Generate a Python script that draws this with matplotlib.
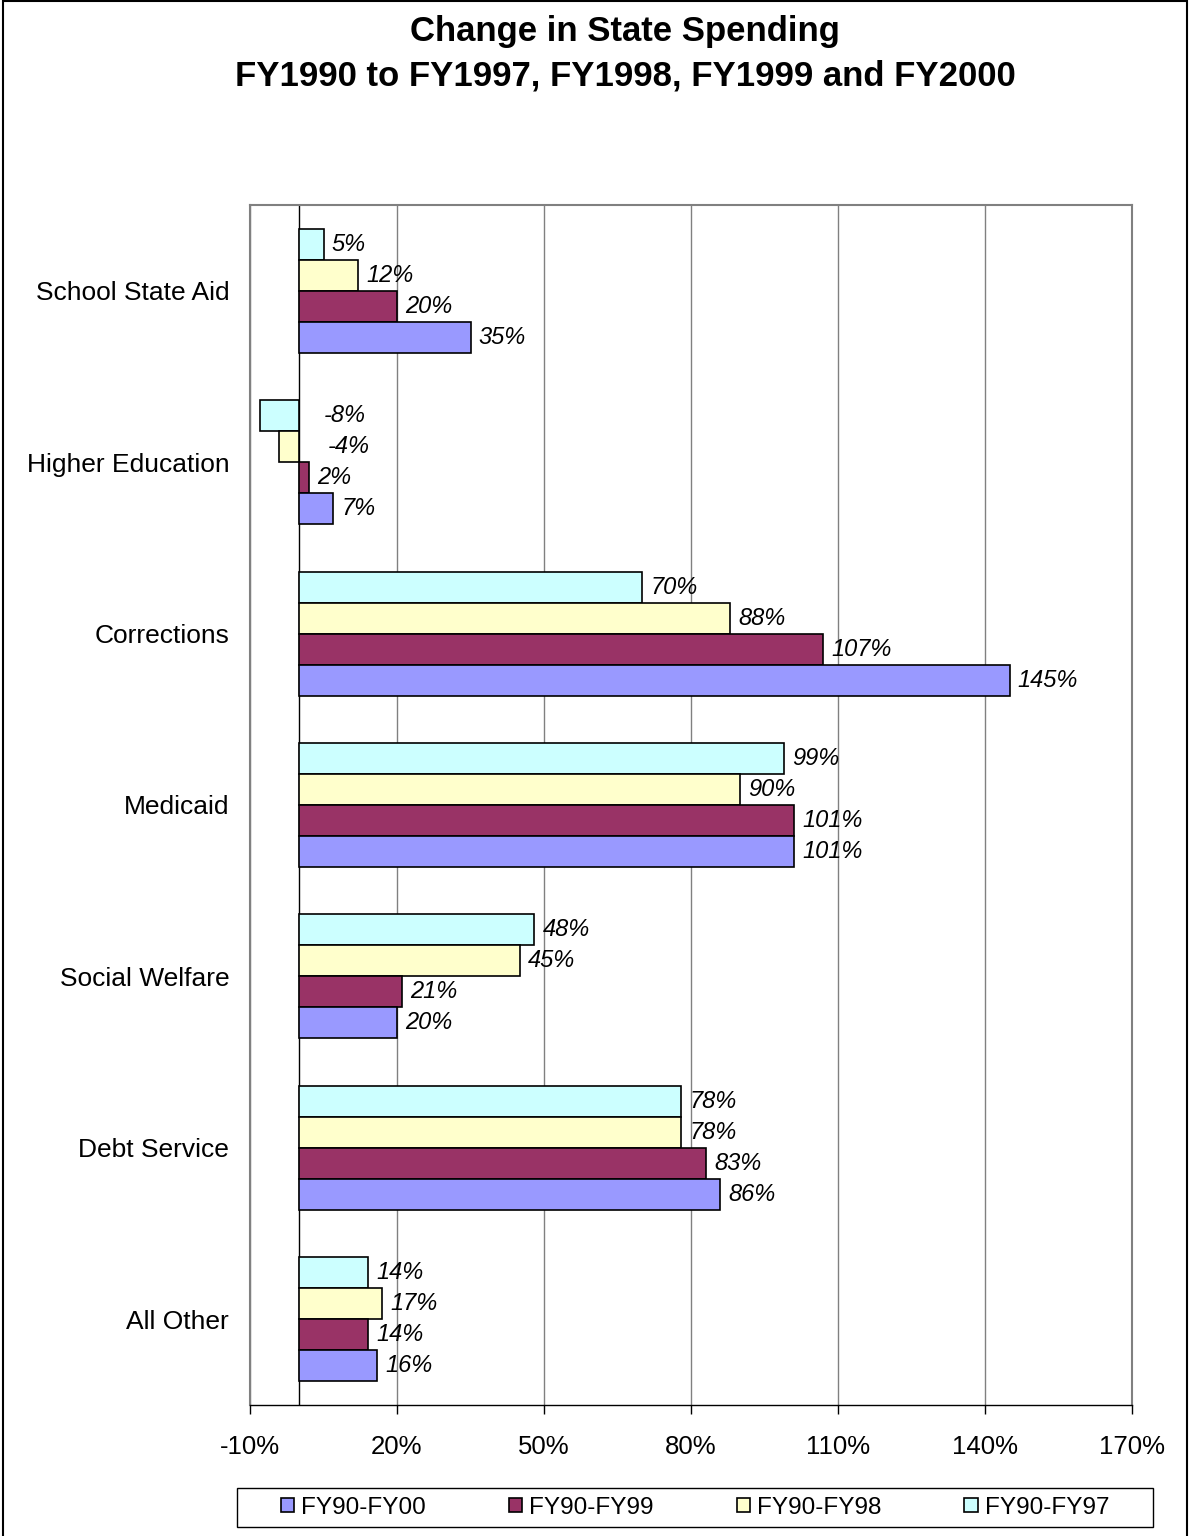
import numpy as np
import matplotlib
matplotlib.use("Agg")
from matplotlib import pyplot as plt
from matplotlib.patches import Patch, Rectangle

plt.rcParams['font.family'] = ['Liberation Sans', 'DejaVu Sans']

categories = ["School State Aid", "Higher Education", "Corrections", "Medicaid",
              "Social Welfare", "Debt Service", "All Other"]
fy97 = [5, -8, 70, 99, 48, 78, 14]
fy98 = [12, -4, 88, 90, 45, 78, 17]
fy99 = [20, 2, 107, 101, 21, 83, 14]
fy00 = [35, 7, 145, 101, 20, 86, 16]

# top to bottom inside each group
series = [
    ("FY90-FY97", fy97, "#CCFFFF"),
    ("FY90-FY98", fy98, "#FFFFCC"),
    ("FY90-FY99", fy99, "#993366"),
    ("FY90-FY00", fy00, "#9999FF"),
]
xticks = np.arange(-10, 171, 30)

W, H = 1189, 1536
fig = plt.figure(figsize=(W / 100, H / 100), dpi=100)
ax = fig.add_axes([250 / W, 131 / H, 882 / W, 1200 / H])

y = np.arange(len(categories))
h = 0.181
for k, (name, vals, col) in enumerate(series):
    pos = y + (k - 1.5) * h
    ax.barh(pos, vals, height=h, color=col, edgecolor="black", linewidth=1.2, zorder=3)
    for p, v in zip(pos, vals):
        if v >= 0:
            ax.annotate(f"{v}%", (v, p), xytext=(6, 0), textcoords="offset points",
                        ha="left", va="center", fontsize=17, style="italic", zorder=4)
        else:
            # negative labels sit to the right of the zero line
            ax.annotate(f"{v}%", (0, p), xytext=(24 + 0.75 * v, 0), textcoords="offset points",
                        ha="left", va="center", fontsize=17, style="italic", zorder=4)

ax.set_xlim(-10, 170)
ax.set_ylim(len(categories) - 0.5, -0.5)
ax.set_xticks(xticks)
ax.set_xticklabels([f"{t}%" for t in xticks], fontsize=18.5)
ax.set_yticks(y)
ax.set_yticklabels(categories, fontsize=19)
ax.tick_params(axis="y", length=0, pad=15)
ax.tick_params(axis="x", direction="out", length=6.5, width=1, color="black", pad=15)
ax.xaxis.grid(True, color="#808080", linewidth=1, zorder=0)
ax.axvline(0, color="black", linewidth=1, zorder=2)
for s in ["top", "right", "left"]:
    ax.spines[s].set_color("#808080")
    ax.spines[s].set_linewidth(1.5)
ax.spines["bottom"].set_color("black")
ax.spines["bottom"].set_linewidth(1)

fig.text(625 / W, 1 - 32 / H, "Change in State Spending", ha="center", va="center",
         fontsize=25, fontweight="bold")
fig.text(625 / W, 1 - 76 / H, "FY1990 to FY1997, FY1998, FY1999 and FY2000", ha="center",
         va="center", fontsize=25, fontweight="bold")

handles = [Patch(facecolor=c, edgecolor="black", linewidth=1.2, label=n) for n, v, c in series[::-1]]
fig.legend(handles=handles, ncol=4, frameon=False, loc="center",
           bbox_to_anchor=(695 / W, 1 - 1507.5 / H), fontsize=17.5,
           handlelength=0.55, handleheight=0.55, handletextpad=0.3, columnspacing=3.4)
fig.patches.append(Rectangle((237 / W, 1 - 1527 / H), 916 / W, 39 / H, transform=fig.transFigure,
                             fill=False, edgecolor="black", linewidth=1))
fig.patches.append(Rectangle((3 / W, -0.01), 1184 / W, 1.0 - 1.5 / H + 0.01, transform=fig.transFigure,
                             fill=False, edgecolor="black", linewidth=1.5))

fig.savefig("out.png", dpi=100)
